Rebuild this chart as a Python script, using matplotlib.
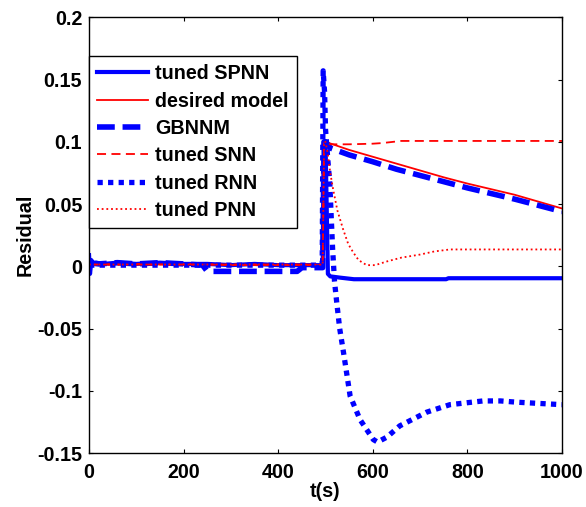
import numpy as np
import matplotlib.pyplot as plt

plt.rcParams['font.family'] = ['Liberation Sans', 'DejaVu Sans']
plt.rcParams['font.weight'] = 'bold'
plt.rcParams['font.size'] = 14.2

# tuned SPNN
t_spnn = [0, 2, 5, 9, 15, 30, 60, 100, 150, 200, 250, 300, 350, 400, 450, 490, 494,
          496, 500, 505, 510, 530, 560, 600, 700, 755, 760, 800, 900, 1000]
r_spnn = [0.009, -0.006, 0.005, 0.002, 0.003, 0.002, 0.003, 0.002, 0.003, 0.002, 0.002,
          0.001, 0.002, 0.001, 0.001, 0.001, 0.001, 0.1, 0.1, -0.006, -0.008, -0.009,
          -0.0103, -0.0103, -0.0103, -0.0103, -0.0095, -0.0095, -0.0095, -0.0095]

# desired model
t_des = [0, 50, 100, 150, 200, 250, 300, 400, 494, 497, 500, 550, 600, 650, 700,
         750, 800, 850, 900, 950, 1000]
r_des = [0.002, 0.0015, 0.002, 0.0015, 0.002, 0.0015, 0.001, 0.001, 0.001, 0.1, 0.1,
         0.0935, 0.088, 0.0825, 0.077, 0.0715, 0.0665, 0.062, 0.0575, 0.052, 0.0465]

# GBNNM
t_gb = [0, 20, 60, 100, 150, 200, 240, 250, 440, 450, 490, 494, 497, 500, 510, 550,
        600, 650, 700, 750, 800, 850, 900, 950, 1000]
r_gb = [0.003, 0.002, 0.003, 0.002, 0.003, 0.002, 0.001, -0.004, -0.004, -0.001,
        -0.001, -0.001, 0.1, 0.1, 0.095, 0.0895, 0.084, 0.078, 0.073, 0.068, 0.063,
        0.0585, 0.054, 0.049, 0.044]

# tuned SNN
t_snn = [0, 200, 400, 494, 497, 500, 510, 550, 600, 620, 660, 800, 1000]
r_snn = [0.0015, 0.0015, 0.0015, 0.0015, 0.1, 0.1, 0.098, 0.098, 0.0985, 0.099,
         0.1007, 0.1007, 0.1007]

# tuned RNN
t_rnn = [0, 200, 400, 493, 495, 498, 500, 505, 509, 512, 515, 519, 524, 530, 538, 552,
         573, 601, 610, 630, 657, 714, 763, 833, 870, 904, 1000]
r_rnn = [0.001, 0.001, 0.001, 0.001, 0.157, 0.14, 0.11, 0.085, 0.067, 0.04, 0.014,
         -0.012, -0.03, -0.05, -0.069, -0.104, -0.123, -0.139, -0.141, -0.137, -0.128,
         -0.117, -0.111, -0.108, -0.108, -0.109, -0.111]

# tuned PNN
t_pnn = [0, 200, 400, 494, 497, 500, 505, 510, 516, 525, 537, 548, 559, 570, 587, 605,
         630, 660, 700, 730, 763, 1000]
r_pnn = [0.0015, 0.0015, 0.0015, 0.0015, 0.1, 0.1, 0.09, 0.075, 0.062, 0.045, 0.030,
         0.018, 0.011, 0.005, 0.001, 0.001, 0.004, 0.007, 0.0095, 0.012, 0.0136, 0.0136]

fig = plt.figure(figsize=(5.86, 5.07), dpi=100)
ax = fig.add_axes([0.152, 0.106, 0.807, 0.860])

ax.plot(t_spnn, r_spnn, color='blue', lw=3, label='tuned SPNN')
ax.plot(t_des, r_des, color='red', lw=1.3, label='desired model')
ax.plot(t_gb, r_gb, color='blue', lw=4, dashes=(3.2, 1.4), label='GBNNM')
ax.plot(t_snn, r_snn, color='red', lw=1.3, dashes=(5, 3), label='tuned SNN')
ax.plot(t_rnn, r_rnn, color='blue', lw=3.8, dashes=(1, 1), label='tuned RNN')
ax.plot(t_pnn, r_pnn, color='red', lw=1.3, dashes=(1, 1.6), label='tuned PNN')

ax.set_xlim(0, 1000)
ax.set_ylim(-0.15, 0.2)
ax.set_xticks(np.arange(0, 1001, 200))
ax.set_yticks(np.arange(-0.15, 0.201, 0.05))
ax.set_yticklabels(['-0.15', '-0.1', '-0.05', '0', '0.05', '0.1', '0.15', '0.2'])
ax.tick_params(direction='in', top=True, right=True, length=3, width=0.8, pad=5)
ax.tick_params(axis='x', pad=7)
for s in ax.spines.values():
    s.set_linewidth(1.0)

ax.set_xlabel('t(s)', fontweight='bold', labelpad=0)
ax.set_ylabel('Residual', fontweight='bold', labelpad=2)

leg = ax.legend(loc='upper left', bbox_to_anchor=(0.0, 0.91), fancybox=False,
                edgecolor='black', framealpha=1, handlelength=2.6, handletextpad=0.35,
                labelspacing=0.42, borderaxespad=0, borderpad=0.4)
leg.get_frame().set_linewidth(1.0)

fig.savefig('out.png', dpi=100)
